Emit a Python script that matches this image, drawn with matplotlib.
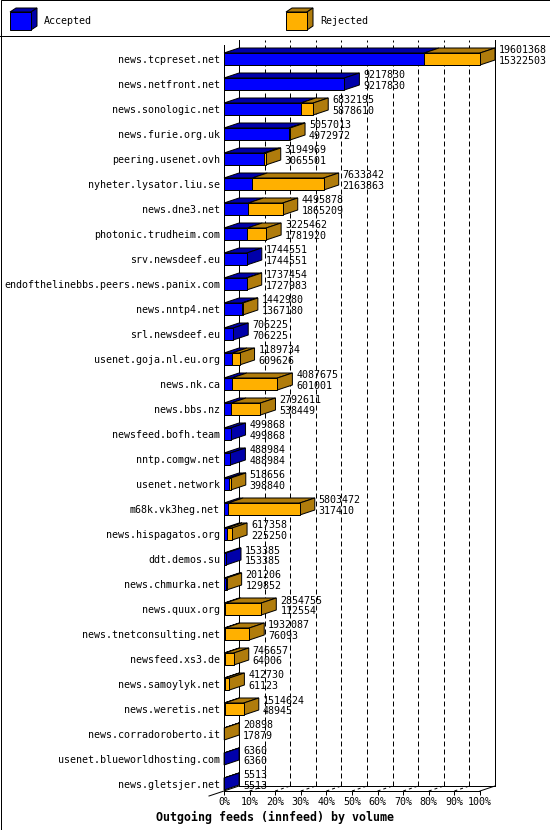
import matplotlib
matplotlib.use("Agg")
import matplotlib.pyplot as plt
from matplotlib.patches import Polygon, Rectangle

hosts = [
    "news.tcpreset.net", "news.netfront.net", "news.sonologic.net",
    "news.furie.org.uk", "peering.usenet.ovh", "nyheter.lysator.liu.se",
    "news.dne3.net", "photonic.trudheim.com", "srv.newsdeef.eu",
    "endofthelinebbs.peers.news.panix.com", "news.nntp4.net",
    "srl.newsdeef.eu", "usenet.goja.nl.eu.org", "news.nk.ca", "news.bbs.nz",
    "newsfeed.bofh.team", "nntp.comgw.net", "usenet.network",
    "m68k.vk3heg.net", "news.hispagatos.org", "ddt.demos.su",
    "news.chmurka.net", "news.quux.org", "news.tnetconsulting.net",
    "newsfeed.xs3.de", "news.samoylyk.net", "news.weretis.net",
    "news.corradoroberto.it", "usenet.blueworldhosting.com",
    "news.gletsjer.net",
]
offered = [
    19601368, 9217830, 6832195, 5057013, 3194969, 7633342, 4495878, 3225462,
    1744551, 1737454, 1442980, 706225, 1189734, 4087675, 2792611, 499868,
    488984, 518656, 5803472, 617358, 153385, 201206, 2854755, 1932087,
    746657, 412730, 1514624, 20898, 6360, 5513,
]
accepted = [
    15322503, 9217830, 5878610, 4972972, 3065501, 2163863, 1865209, 1781920,
    1744551, 1727983, 1367180, 706225, 609626, 601001, 538449, 499868,
    488984, 398840, 317410, 225250, 153385, 129852, 112554, 76093,
    64006, 61123, 48945, 17879, 6360, 5513,
]
pct_ticks = list(range(0, 101, 10))
pct_labels = [f"{p}%" for p in pct_ticks]

BLUE = "#0000ff"
BLUE_DARK = "#0000aa"
ORANGE = "#ffb000"
ORANGE_DARK = "#b07c0c"
LW = 0.72  # one pixel at 100 dpi

plt.rcParams["font.family"] = ["DejaVu Sans Mono"]
plt.rcParams["font.size"] = 7.2

W, H = 550, 830
fig = plt.figure(figsize=(W / 100, H / 100), dpi=100)

# overlay in pixel coords for the frame, legend and caption
bg = fig.add_axes([0, 0, 1, 1], zorder=0)
bg.set_xlim(0, W)
bg.set_ylim(H, 0)
bg.axis("off")
bg.add_patch(Rectangle((0.5, 0.5), W - 1, H - 1, fill=False, ec="black", lw=LW))
bg.plot([0, W], [36.5, 36.5], color="black", lw=LW)


def legend_cube(x, label, front, dark):
    y, w, h, ddx, ddy = 12, 21, 18, 6, 4
    bg.add_patch(Polygon([(x, y), (x + w, y), (x + w + ddx, y - ddy), (x + ddx, y - ddy)],
                         fc=dark, ec="black", lw=LW))
    bg.add_patch(Polygon([(x + w, y), (x + w + ddx, y - ddy), (x + w + ddx, y + h - ddy), (x + w, y + h)],
                         fc=dark, ec="black", lw=LW))
    bg.add_patch(Rectangle((x, y), w, h, fc=front, ec="black", lw=LW))
    bg.text(x + w + ddx + 7, 21, label, ha="left", va="center")


legend_cube(10, "Accepted", BLUE, BLUE_DARK)
legend_cube(286, "Rejected", ORANGE, ORANGE_DARK)
bg.text(275, 817, "Outgoing feeds (innfeed) by volume", ha="center", va="center",
        fontweight="bold", fontsize=8.4)

# chart axes: x in percent of the biggest feed, y in rows
row_px = 25
first_row = 59
ax_left, ax_right, ax_top, ax_bottom = 224, 480, 45, 791
ax = fig.add_axes([ax_left / W, (H - ax_bottom) / H, (ax_right - ax_left) / W,
                   (ax_bottom - ax_top) / H], zorder=1)
ax.patch.set_alpha(0)
y_top = (ax_top - first_row) / row_px
y_bot = (ax_bottom - first_row) / row_px
ax.set_xlim(0, 100)
ax.set_ylim(y_bot, y_top)

px_x = 100 / (ax_right - ax_left)
dx = 15 * px_x
dy = 5 / row_px
half = 6 / row_px

for s in ("top", "right"):
    ax.spines[s].set_visible(False)
for s in ("left", "bottom"):
    ax.spines[s].set_linewidth(LW)

ax.set_yticks(range(len(hosts)))
ax.set_yticklabels(hosts)
ax.tick_params(axis="y", length=0, pad=2.9)
ax.set_xticks(pct_ticks)
ax.set_xticklabels(pct_labels)
ax.tick_params(axis="x", length=2.9, width=LW, pad=1.4)

# back wall grid and floor
for p in pct_ticks:
    ls = "-" if p in (0, 100) else (0, (5, 3))
    ax.plot([p + dx, p + dx], [y_bot - dy, y_top - dy], color="black", lw=LW,
            ls=ls, clip_on=False, zorder=1)
    if 0 < p < 100:
        ax.plot([p, p + dx], [y_bot, y_bot - dy], color="black", lw=LW,
                ls=(0, (3, 3)), clip_on=False, zorder=1)
ax.plot([dx, 100 + dx], [y_bot - dy, y_bot - dy], color="black", lw=LW, clip_on=False)
ax.plot([100, 100 + dx], [y_bot, y_bot - dy], color="black", lw=LW, clip_on=False)
ax.plot([-dx, dx], [y_bot + dy, y_bot - dy], color="black", lw=LW, clip_on=False)

top_val = max(offered)
for i, (o, a) in enumerate(zip(offered, accepted)):
    t = o / top_val * 100
    b = a / top_val * 100
    y0, y1 = i - half, i + half
    kw = dict(ec="black", lw=LW, clip_on=False, zorder=2)
    # top faces
    ax.add_patch(Polygon([(0, y0), (b, y0), (b + dx, y0 - dy), (dx, y0 - dy)], fc=BLUE_DARK, **kw))
    if t > b:
        ax.add_patch(Polygon([(b, y0), (t, y0), (t + dx, y0 - dy), (b + dx, y0 - dy)], fc=ORANGE_DARK, **kw))
    # side face
    side = ORANGE_DARK if t > b else BLUE_DARK
    ax.add_patch(Polygon([(t, y0), (t + dx, y0 - dy), (t + dx, y1 - dy), (t, y1)], fc=side, **kw))
    # front faces
    ax.add_patch(Rectangle((0, y0), b, y1 - y0, fc=BLUE, **kw))
    if t > b:
        ax.add_patch(Rectangle((b, y0), t - b, y1 - y0, fc=ORANGE, **kw))
    tx = t + dx + 4 * px_x
    ax.text(tx, i - 8.5 / row_px, str(o), ha="left", va="center", clip_on=False, zorder=3)
    ax.text(tx, i + 2.3 / row_px, str(a), ha="left", va="center", clip_on=False, zorder=3)

fig.savefig("out.png", dpi=100)
